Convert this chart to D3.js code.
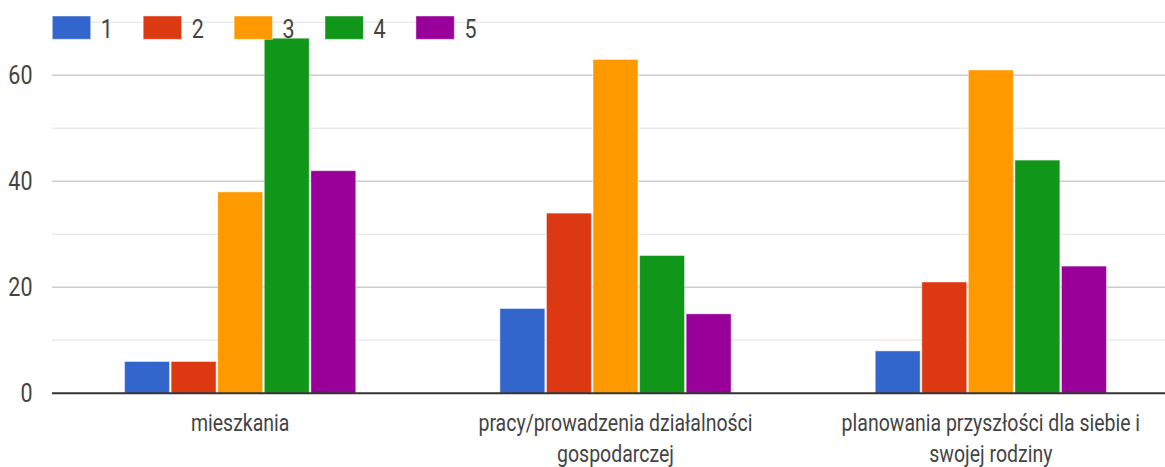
<!DOCTYPE html>
<html>
<head>
<meta charset="utf-8">
<script src="https://cdn.jsdelivr.net/npm/d3@7"></script>
<style>
  html, body { margin: 0; padding: 0; background: #fff; }
  svg { display: block; }
  text { font-family: Roboto, Arial, "Liberation Sans", sans-serif; fill: #444; }
</style>
</head>
<body>
<svg id="chart" width="1165" height="467"></svg>
<script>
const categories = [
  ["mieszkania"],
  ["pracy/prowadzenia działalności", "gospodarczej"],
  ["planowania przyszłości dla siebie i", "swojej rodziny"]
];
const seriesNames = ["1", "2", "3", "4", "5"];
const series1 = [6, 16, 8];
const series2 = [6, 34, 21];
const series3 = [38, 63, 61];
const series4 = [67, 26, 44];
const series5 = [42, 15, 24];
const allSeries = [series1, series2, series3, series4, series5];
const colors = ["#3366cc", "#dc3912", "#ff9900", "#109618", "#990099"];
const yTicks = [0, 10, 20, 30, 40, 50, 60, 70];
const yLabels = [0, 20, 40, 60];

const svg = d3.select("#chart");
const SY = 1.2;
const catKeys = categories.map(c => c.join(" "));

const x0 = d3.scaleBand().domain(catKeys).range([52.5, 1178.5]).paddingInner(0).paddingOuter(0);
const groupFrac = 0.616;
const x1 = d3.scaleBand().domain(seriesNames)
  .range([0, x0.bandwidth() * groupFrac]).paddingInner(0.035).paddingOuter(0);
const y = d3.scaleLinear().domain([0, 70]).range([393.3, 22.3]);

// gridlines
svg.append("g").selectAll("line").data(yTicks.filter(t => t > 0)).join("line")
  .attr("x1", 52).attr("x2", 1165)
  .attr("y1", d => y(d)).attr("y2", d => y(d))
  .attr("stroke", d => d % 20 === 0 ? "#cccccc" : "#ebebeb")
  .attr("stroke-width", 1.6);

// y labels
svg.append("g").selectAll("text").data(yLabels).join("text")
  .attr("transform", d => `translate(32.5,${y(d) + 9}) scale(1,${SY})`)
  .attr("text-anchor", "end")
  .attr("font-size", 21.5)
  .text(d => d);

// bars
const groups = svg.append("g").selectAll("g").data(catKeys).join("g")
  .attr("transform", d => `translate(${x0(d) + x0.bandwidth() * (1 - groupFrac) / 2},0)`);
groups.selectAll("rect")
  .data((d, ci) => seriesNames.map((s, si) => ({ s, si, v: allSeries[si][ci] })))
  .join("rect")
  .attr("x", d => x1(d.s))
  .attr("width", x1.bandwidth())
  .attr("y", d => y(d.v))
  .attr("height", d => y(0) - y(d.v))
  .attr("fill", d => colors[d.si])
  .attr("stroke", "rgba(255,255,255,0.45)")
  .attr("stroke-width", 1);

// baseline
svg.append("line")
  .attr("x1", 52).attr("x2", 1165)
  .attr("y1", y(0)).attr("y2", y(0))
  .attr("stroke", "#333").attr("stroke-width", 2);

// x labels
const xl = svg.append("g");
categories.forEach((lines, ci) => {
  const cx = x0(catKeys[ci]) + x0.bandwidth() / 2;
  lines.forEach((ln, li) => {
    xl.append("text")
      .attr("transform", `translate(${cx},${430.5 + li * 31.7}) scale(1,${SY})`)
      .attr("text-anchor", "middle")
      .attr("font-size", 19.5)
      .text(ln);
  });
});

// legend
const legend = svg.append("g");
seriesNames.forEach((s, i) => {
  const lx = 52.3 + i * 90.9;
  legend.append("rect")
    .attr("x", lx).attr("y", 16).attr("width", 38.4).attr("height", 23.3)
    .attr("fill", colors[i])
    .attr("stroke", "rgba(255,255,255,0.45)").attr("stroke-width", 1);
  legend.append("text")
    .attr("transform", `translate(${lx + 48.5},38.3) scale(1,${SY})`)
    .attr("font-size", 21.5)
    .text(s);
});
</script>
</body>
</html>
